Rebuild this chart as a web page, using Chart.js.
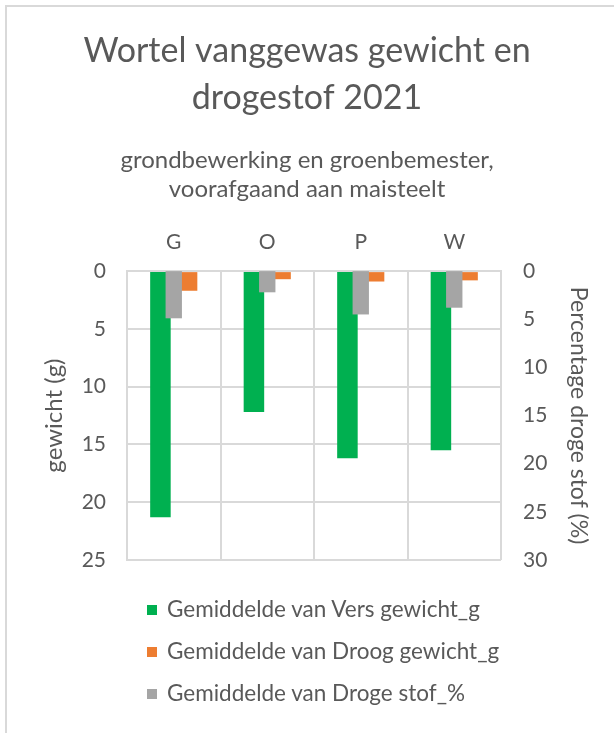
<!DOCTYPE html>
<html>
<head>
<meta charset="utf-8">
<script src="https://cdn.jsdelivr.net/npm/chart.js@4"></script>
<style>
  html, body { margin: 0; padding: 0; background: #fff; }
  #wrap { position: relative; width: 614px; height: 733px; overflow: hidden; }
  #frame { position: absolute; left: 5px; top: 5px; right: -10px; bottom: -10px;
           border-top: 2px solid #d9d9d9; border-left: 2px solid #d9d9d9; }
  #chart { position: absolute; left: 0; top: 0; }
  #legend { position: absolute; left: 147px; top: 594px; font-family: Lato, sans-serif;
            font-size: 22.5px; color: #595959; }
  #legend div { height: 42px; line-height: 30px; white-space: nowrap; }
  #legend span.box { display: inline-block; width: 10px; height: 10px; margin-right: 10px;
                     vertical-align: 2px; }
</style>
</head>
<body>
<div id="wrap">
  <div id="frame"></div>
  <canvas id="chart" width="614" height="733"></canvas>
  <div id="legend"></div>
</div>
<script>
  // data
  const categories = ['G', 'O', 'P', 'W'];
  const versGewicht = [21.3, 12.2, 16.2, 15.5];
  const droogGewicht = [1.7, 0.7, 0.9, 0.8];
  const drogeStof = [4.9, 2.2, 4.5, 3.8];
  const leftTicks = [0, 25, 5];   // min, max, step
  const rightTicks = [0, 30, 5];

  const textColor = '#595959';
  const gridColor = '#d9d9d9';
  Chart.defaults.font.family = 'Lato, sans-serif';
  Chart.defaults.color = textColor;

  const chart = new Chart(document.getElementById('chart'), {
    type: 'bar',
    data: {
      labels: categories,
      datasets: [
        {
          label: 'Gemiddelde van Vers gewicht_g',
          data: versGewicht,
          backgroundColor: '#00b050',
          yAxisID: 'y',
          categoryPercentage: 0.57, barPercentage: 0.77,
          order: 1,
        },
        {
          label: 'Gemiddelde van Droog gewicht_g',
          data: droogGewicht,
          backgroundColor: '#ed7d31',
          yAxisID: 'y',
          categoryPercentage: 0.57, barPercentage: 0.77,
          order: 1,
        },
        {
          // secondary axis series sits centred on the category, over the others
          label: 'Gemiddelde van Droge stof_%',
          data: drogeStof,
          backgroundColor: '#a5a5a5',
          yAxisID: 'y2',
          grouped: false,
          categoryPercentage: 1, barPercentage: 0.175,
          order: 0,
        },
      ],
    },
    options: {
      responsive: false,
      animation: false,
      layout: { padding: { left: 0, right: 0, top: 0, bottom: 173 } },
      plugins: {
        legend: { display: false },
        tooltip: { enabled: false },
        title: {
          display: true,
          text: ['Wortel vanggewas gewicht en', 'drogestof 2021'],
          color: textColor,
          font: { size: 34, weight: 'normal', lineHeight: 1.38 },
          padding: { top: 28, bottom: 24 },
        },
        subtitle: {
          display: true,
          text: ['grondbewerking en groenbemester,', 'voorafgaand aan maisteelt'],
          color: textColor,
          font: { size: 24, weight: 'normal', lineHeight: 1.21 },
          padding: { top: 0, bottom: 10 },
        },
      },
      scales: {
        x: {
          position: 'top',
          grid: { color: gridColor, lineWidth: 2, drawTicks: false },
          border: { color: gridColor, width: 2 },
          ticks: { font: { size: 21 }, padding: 16, color: textColor },
        },
        y: {
          position: 'left',
          reverse: true,
          min: leftTicks[0], max: leftTicks[1],
          ticks: { stepSize: leftTicks[2], font: { size: 21 }, padding: 21, color: textColor },
          grid: { color: gridColor, lineWidth: 2, drawTicks: false },
          border: { color: gridColor, width: 2 },
          title: { display: true, text: 'gewicht (g)', font: { size: 24 }, color: textColor,
                   padding: { top: 40, bottom: 0 } },
          afterFit: s => { s.width = 127; },
        },
        y2: {
          position: 'right',
          reverse: true,
          min: rightTicks[0], max: rightTicks[1],
          ticks: { stepSize: rightTicks[2], font: { size: 21 }, padding: 22, color: textColor },
          grid: { display: false, drawTicks: false },
          border: { display: false },
          title: { display: true, text: 'Percentage droge stof (%)', font: { size: 23 }, color: textColor,
                   padding: { top: 22, bottom: 0 } },
          afterFit: s => { s.width = 113; },
        },
      },
    },
  });

  // legend as a vertical list, left aligned like the original
  const legendOrder = [0, 1, 2];
  document.getElementById('legend').innerHTML = legendOrder.map(i => {
    const ds = chart.data.datasets[i];
    return `<div><span class="box" style="background:${ds.backgroundColor}"></span>${ds.label}</div>`;
  }).join('');
</script>
</body>
</html>
